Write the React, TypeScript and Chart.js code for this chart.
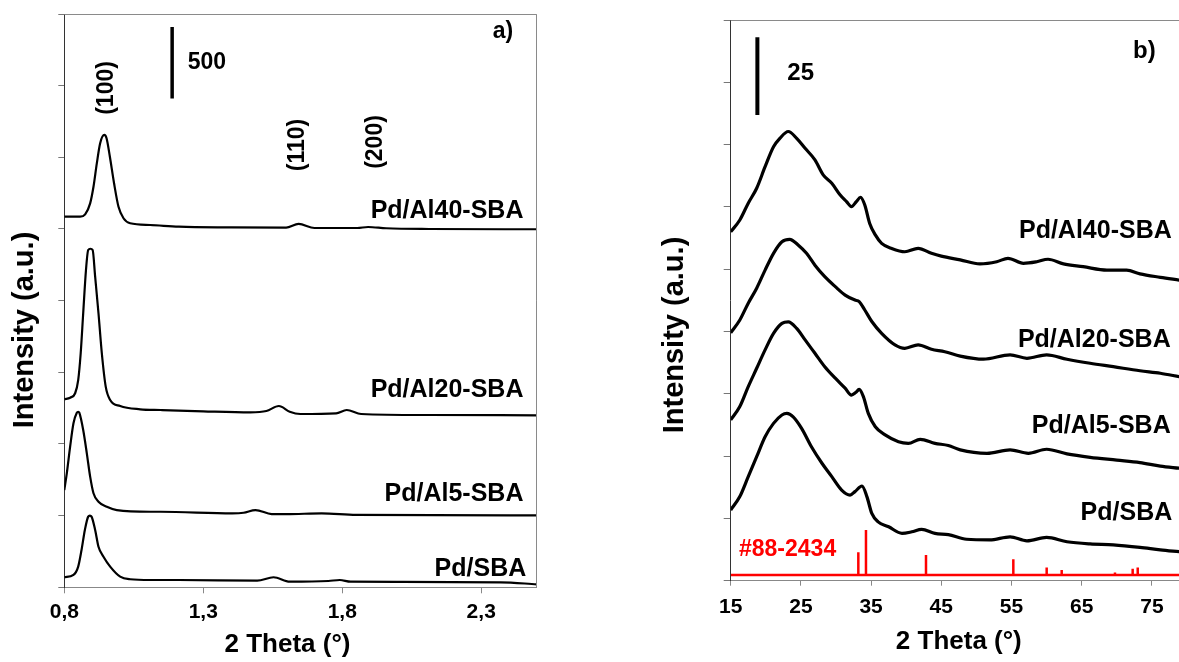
import React, { useEffect, useRef } from "react";
import { Chart, registerables } from "chart.js";

Chart.register(...registerables);

const FONT = "'Liberation Sans', Arial, sans-serif";
Chart.defaults.font.family = FONT;

// ---------------- Panel a) low-angle XRD ----------------
const A_XTICKS = [0.8, 1.3, 1.8, 2.3];
const A_YTICKS = [0, 500, 1000, 1500, 2000, 2500, 3000, 3500, 4000];

const A_X_AL40 = [0.8, 0.857, 0.875, 0.893, 0.905, 0.917, 0.929, 0.944, 0.952, 0.964, 0.979, 0.995, 1.013, 1.037, 1.109, 1.212, 1.4, 1.598, 1.643, 1.7, 1.854, 1.893, 1.958, 2.112, 2.5];
const A_Y_AL40 = [2586, 2586, 2602, 2679, 2795, 2958, 3098, 3156, 3133, 3004, 2819, 2655, 2575, 2540, 2528, 2516, 2511, 2509, 2535, 2507, 2507, 2514, 2505, 2500, 2498];

const A_X_AL20 = [0.8, 0.821, 0.839, 0.85, 0.859, 0.868, 0.878, 0.886, 0.894, 0.902, 0.911, 0.923, 0.935, 0.949, 0.965, 1.001, 1.073, 1.147, 1.3, 1.469, 1.527, 1.572, 1.611, 1.649, 1.778, 1.816, 1.868, 2.112, 2.5];
const A_Y_AL20 = [1312, 1323, 1354, 1446, 1633, 1912, 2214, 2353, 2362, 2353, 2167, 1912, 1633, 1400, 1307, 1265, 1242, 1237, 1228, 1221, 1230, 1265, 1225, 1209, 1214, 1237, 1209, 1202, 1200];

const A_X_AL5 = [0.8, 0.809, 0.821, 0.833, 0.845, 0.85, 0.854, 0.868, 0.881, 0.893, 0.905, 0.923, 0.953, 0.989, 1.109, 1.147, 1.404, 1.445, 1.488, 1.546, 1.6, 1.726, 1.85, 2.5];
const A_Y_AL5 = [679, 795, 981, 1144, 1218, 1225, 1218, 1097, 935, 772, 656, 597, 562, 539, 527, 527, 516, 520, 539, 511, 510, 516, 505, 502];

const A_X_SBA = [0.8, 0.833, 0.85, 0.862, 0.874, 0.886, 0.892, 0.898, 0.911, 0.923, 0.941, 0.965, 1.001, 1.037, 1.109, 1.212, 1.494, 1.553, 1.611, 1.75, 1.791, 1.83, 2.0, 2.37, 2.5];
const A_Y_SBA = [70, 86, 144, 260, 400, 493, 500, 493, 400, 283, 213, 144, 74, 56, 51, 51, 46, 70, 39, 44, 51, 39, 38, 35, 21];

const A_BAR_X = [1.188, 1.188];
const A_BAR_Y = [3410, 3910];

// ---------------- Panel b) wide-angle XRD ----------------
const B_XTICKS = [15, 25, 35, 45, 55, 65, 75];
const B_YTICKS = [0, 20, 40, 60, 80, 100, 120, 140, 160, 180];

const B_X_AL40 = [15.0, 16.3, 17.5, 18.7, 19.9, 21.1, 22.0, 23.2, 24.4, 25.6, 27.0, 28.2, 29.4, 30.6, 31.5, 32.2, 32.9, 33.5, 34.1, 34.8, 35.6, 36.5, 37.9, 39.8, 41.7, 43.6, 45.0, 47.7, 50.5, 52.9, 54.5, 56.7, 58.6, 60.2, 62.4, 65.2, 68.6, 71.4, 73.3, 76.2, 78.9];
const B_Y_AL40 = [112.0, 115.8, 121.2, 126.0, 132.9, 139.3, 142.0, 144.2, 142.0, 138.8, 135.1, 130.2, 127.6, 123.8, 121.7, 120.1, 121.7, 123.1, 120.6, 114.7, 111.0, 108.3, 106.7, 105.6, 106.7, 105.1, 104.2, 103.0, 101.7, 102.4, 103.5, 101.9, 102.4, 103.2, 101.7, 100.8, 99.7, 99.7, 98.5, 97.4, 96.5];

const B_X_AL20 = [15.0, 16.3, 17.5, 18.7, 19.9, 21.1, 22.3, 23.4, 24.6, 25.8, 27.0, 28.4, 29.9, 31.3, 32.7, 33.3, 34.1, 35.1, 36.5, 38.4, 39.8, 41.7, 43.6, 45.5, 47.7, 51.0, 54.8, 57.2, 60.0, 62.9, 66.2, 69.5, 73.3, 76.2, 78.9];
const B_Y_AL20 = [79.6, 83.7, 89.1, 93.9, 99.7, 105.1, 108.8, 109.6, 107.8, 105.1, 101.3, 97.6, 94.4, 91.7, 90.1, 89.6, 86.9, 83.2, 79.4, 75.7, 74.6, 75.7, 74.3, 73.5, 72.1, 71.1, 72.5, 71.4, 72.5, 71.1, 69.8, 68.7, 67.4, 66.6, 65.5];

const B_X_AL5 = [15.0, 16.3, 17.5, 18.7, 19.9, 21.1, 22.3, 23.2, 24.4, 25.6, 27.0, 28.4, 29.9, 31.3, 32.2, 32.8, 33.3, 33.9, 34.6, 35.6, 37.0, 38.9, 40.3, 42.0, 44.1, 46.0, 47.7, 51.5, 54.8, 57.4, 60.0, 62.9, 66.2, 70.0, 73.3, 76.2, 78.9];
const B_Y_AL5 = [51.6, 55.9, 62.3, 68.2, 74.1, 79.4, 82.6, 83.1, 81.0, 77.3, 73.0, 68.7, 65.0, 61.8, 59.6, 60.4, 61.4, 59.1, 53.7, 49.4, 46.8, 44.6, 44.1, 45.4, 44.1, 43.4, 42.0, 40.9, 42.0, 40.9, 42.2, 40.7, 39.6, 38.7, 37.9, 36.8, 36.1];

const B_X_SBA = [15.0, 16.3, 17.5, 18.7, 19.9, 21.1, 22.3, 23.0, 23.9, 25.1, 26.5, 28.0, 29.4, 30.8, 32.0, 32.7, 33.7, 34.4, 35.1, 36.0, 37.5, 39.4, 40.8, 42.2, 44.1, 46.0, 48.6, 51.9, 54.8, 57.2, 60.0, 62.9, 66.2, 69.5, 73.3, 76.2, 78.9];
const B_Y_SBA = [22.7, 27.0, 33.4, 39.8, 46.2, 50.5, 53.2, 53.7, 52.6, 48.9, 43.0, 37.7, 33.4, 29.1, 27.5, 28.6, 30.4, 27.0, 21.6, 18.9, 17.3, 15.2, 15.7, 16.5, 15.2, 14.8, 13.3, 13.1, 14.1, 12.8, 13.9, 12.5, 11.8, 11.5, 10.7, 9.9, 9.3];

// Reference pattern #88-2434 (stick positions and tops)
const REF_POS = [33.18, 34.27, 42.82, 55.26, 60.01, 62.15, 69.74, 72.26, 72.98];
const REF_TOP = [9.1, 16.3, 8.25, 6.9, 4.2, 3.4, 2.6, 3.8, 4.2];
const REF_BASE = 1.8;
const REF_RANGE = [15, 78.9];

const B_BAR_X = [18.8, 18.8];
const B_BAR_Y = [149.5, 174.5];

// ---------------- helpers ----------------
const pts = (xs: number[], ys: number[]) => xs.map((x, i) => ({ x, y: ys[i] }));

function refPoints() {
  const out: { x: number; y: number }[] = [{ x: REF_RANGE[0], y: REF_BASE }];
  REF_POS.forEach((p, i) => {
    out.push({ x: p, y: REF_BASE });
    out.push({ x: p, y: REF_TOP[i] });
    out.push({ x: p, y: REF_BASE });
  });
  out.push({ x: REF_RANGE[1], y: REF_BASE });
  return out;
}

const annotPlugin = {
  id: "annot",
  afterDraw(chart: any) {
    const o = chart.options.plugins.annot;
    if (!o) return;
    const { ctx, chartArea: ca, scales } = chart;
    const xs = scales.x;
    const ys = scales.y;
    ctx.save();
    ctx.strokeStyle = o.frameColor;
    ctx.lineWidth = 1;
    ctx.beginPath();
    const t = Math.round(ca.top) + 0.5;
    ctx.moveTo(ca.left, t);
    ctx.lineTo(ca.right, t);
    if (o.rightFrame) {
      const r = Math.round(ca.right) - 0.5;
      ctx.moveTo(r, t);
      ctx.lineTo(r, ca.bottom);
    }
    ctx.stroke();
    ctx.restore();

    const drawText = (a: any, px: number, py: number) => {
      ctx.save();
      ctx.font = `bold ${a.size}px ${FONT}`;
      ctx.fillStyle = a.color || "#000";
      ctx.textAlign = a.align || "center";
      ctx.textBaseline = "middle";
      ctx.translate(px, py);
      if (a.rotate) ctx.rotate(-Math.PI / 2);
      ctx.fillText(a.text, 0, 0);
      ctx.restore();
    };
    for (const a of o.labels) {
      drawText(a, xs.getPixelForValue(a.x), ys.getPixelForValue(a.y));
    }
    for (const a of o.titles) {
      drawText(a, a.px, a.py);
    }
  },
};

function makeLine(data: any[], color: string, width: number, smooth: boolean) {
  return {
    type: "line",
    data,
    borderColor: color,
    backgroundColor: color,
    borderWidth: width,
    pointRadius: 0,
    fill: false,
    tension: smooth ? 0.35 : 0,
    cubicInterpolationMode: smooth ? "monotone" : "default",
    borderJoinStyle: "round",
    borderCapStyle: "butt",
  };
}

function configA(): any {
  return {
    type: "line",
    data: {
      datasets: [
        makeLine(pts(A_X_AL40, A_Y_AL40), "#000", 2.2, true),
        makeLine(pts(A_X_AL20, A_Y_AL20), "#000", 2.2, true),
        makeLine(pts(A_X_AL5, A_Y_AL5), "#000", 2.2, true),
        makeLine(pts(A_X_SBA, A_Y_SBA), "#000", 2.2, true),
        makeLine(pts(A_BAR_X, A_BAR_Y), "#000", 3.5, false),
      ],
    },
    options: {
      animation: false,
      responsive: true,
      maintainAspectRatio: false,
      layout: { padding: { left: 0, top: 14, right: 23.2, bottom: 0 } },
      plugins: {
        legend: { display: false },
        tooltip: { enabled: false },
        annot: {
          frameColor: "#8a8a8a",
          rightFrame: true,
          labels: [
            { text: "(100)", x: 0.954, y: 3484, size: 23, rotate: true },
            { text: "(110)", x: 1.64, y: 3086, size: 23, rotate: true },
            { text: "(200)", x: 1.919, y: 3107, size: 23, rotate: true },
            { text: "500", x: 1.244, y: 3658, size: 23, align: "left" },
            { text: "a)", x: 2.415, y: 3874, size: 23, align: "right" },
            { text: "Pd/Al40-SBA", x: 2.452, y: 2625, size: 25, align: "right" },
            { text: "Pd/Al20-SBA", x: 2.452, y: 1377, size: 25, align: "right" },
            { text: "Pd/Al5-SBA", x: 2.452, y: 651, size: 25, align: "right" },
            { text: "Pd/SBA", x: 2.462, y: 128, size: 25, align: "right" },
          ],
          titles: [
            { text: "2 Theta (°)", px: 287.5, py: 645, size: 26 },
            { text: "Intensity (a.u.)", px: 25, py: 330, size: 29, rotate: true },
          ],
        },
      },
      scales: {
        x: {
          type: "linear",
          min: 0.8,
          max: 2.5,
          afterBuildTicks: (s: any) => {
            s.ticks = A_XTICKS.map((v) => ({ value: v }));
          },
          afterFit: (s: any) => {
            s.height = 74.7;
          },
          ticks: {
            callback: (v: any) => Number(v).toFixed(1).replace(".", ","),
            font: { size: 21, weight: "bold", lineHeight: 1 },
            color: "#000",
            padding: 8,
            maxRotation: 0,
            autoSkip: false,
          },
          grid: { drawOnChartArea: false, drawTicks: true, tickLength: 6, color: "#888" },
          border: { color: "#888", width: 1 },
        },
        y: {
          type: "linear",
          min: 0,
          max: 4000,
          afterBuildTicks: (s: any) => {
            s.ticks = A_YTICKS.map((v) => ({ value: v }));
          },
          afterFit: (s: any) => {
            s.width = 64.3;
          },
          ticks: { display: false },
          grid: { drawOnChartArea: false, drawTicks: true, tickLength: 6, color: "#777" },
          border: { color: "#333", width: 1 },
        },
      },
    },
    plugins: [annotPlugin],
  };
}

function configB(): any {
  return {
    type: "line",
    data: {
      datasets: [
        makeLine(pts(B_X_AL40, B_Y_AL40), "#000", 3.2, true),
        makeLine(pts(B_X_AL20, B_Y_AL20), "#000", 3.2, true),
        makeLine(pts(B_X_AL5, B_Y_AL5), "#000", 3.2, true),
        makeLine(pts(B_X_SBA, B_Y_SBA), "#000", 3.2, true),
        { ...makeLine(refPoints(), "#ff0000", 2.5, false), borderJoinStyle: "bevel" },
        makeLine(pts(B_BAR_X, B_BAR_Y), "#000", 4, false),
      ],
    },
    options: {
      animation: false,
      responsive: true,
      maintainAspectRatio: false,
      layout: { padding: { left: 0, top: 20, right: 0, bottom: 0 } },
      plugins: {
        legend: { display: false },
        tooltip: { enabled: false },
        annot: {
          frameColor: "#8a8a8a",
          rightFrame: false,
          labels: [
            { text: "25", x: 23.06, y: 162.8, size: 24, align: "left" },
            { text: "b)", x: 75.54, y: 169.8, size: 24, align: "right" },
            { text: "Pd/Al40-SBA", x: 77.83, y: 112.3, size: 25, align: "right" },
            { text: "Pd/Al20-SBA", x: 77.68, y: 77.3, size: 25, align: "right" },
            { text: "Pd/Al5-SBA", x: 77.68, y: 49.5, size: 25, align: "right" },
            { text: "Pd/SBA", x: 77.9, y: 21.7, size: 25, align: "right" },
            { text: "#88-2434", x: 16.18, y: 9.86, size: 23, align: "left", color: "#ff0000" },
          ],
          titles: [
            { text: "2 Theta (°)", px: 378.8, py: 642, size: 26 },
            { text: "Intensity (a.u.)", px: 95.4, py: 335, size: 29, rotate: true },
          ],
        },
      },
      scales: {
        x: {
          type: "linear",
          min: 15,
          max: 78.86,
          afterBuildTicks: (s: any) => {
            s.ticks = B_XTICKS.map((v) => ({ value: v }));
          },
          afterFit: (s: any) => {
            s.height = 81.3;
          },
          ticks: {
            callback: (v: any) => String(v),
            font: { size: 21, weight: "bold", lineHeight: 1 },
            color: "#000",
            padding: 11,
            maxRotation: 0,
            autoSkip: false,
          },
          grid: { drawOnChartArea: false, drawTicks: true, tickLength: 5, color: "#888" },
          border: { color: "#888", width: 1 },
        },
        y: {
          type: "linear",
          min: 0,
          max: 180,
          afterBuildTicks: (s: any) => {
            s.ticks = B_YTICKS.map((v) => ({ value: v }));
          },
          afterFit: (s: any) => {
            s.width = 150.7;
          },
          ticks: { display: false },
          grid: { drawOnChartArea: false, drawTicks: true, tickLength: 7, color: "#777" },
          border: { color: "#333", width: 1 },
        },
      },
    },
    plugins: [annotPlugin],
  };
}

function Panel({ left, width, make }: { left: number; width: number; make: () => any }) {
  const ref = useRef<HTMLCanvasElement | null>(null);
  useEffect(() => {
    if (!ref.current) return;
    const chart = new Chart(ref.current, make());
    return () => chart.destroy();
  }, []);
  return (
    <div style={{ position: "absolute", left, top: 0, width, height: 662 }}>
      <canvas ref={ref} />
    </div>
  );
}

export default function App() {
  return (
    <div style={{ position: "absolute", left: 0, top: 0, width: 1179, height: 662, background: "#fff", overflow: "hidden" }}>
      <Panel left={0} width={560} make={configA} />
      <Panel left={580} width={599} make={configB} />
    </div>
  );
}
